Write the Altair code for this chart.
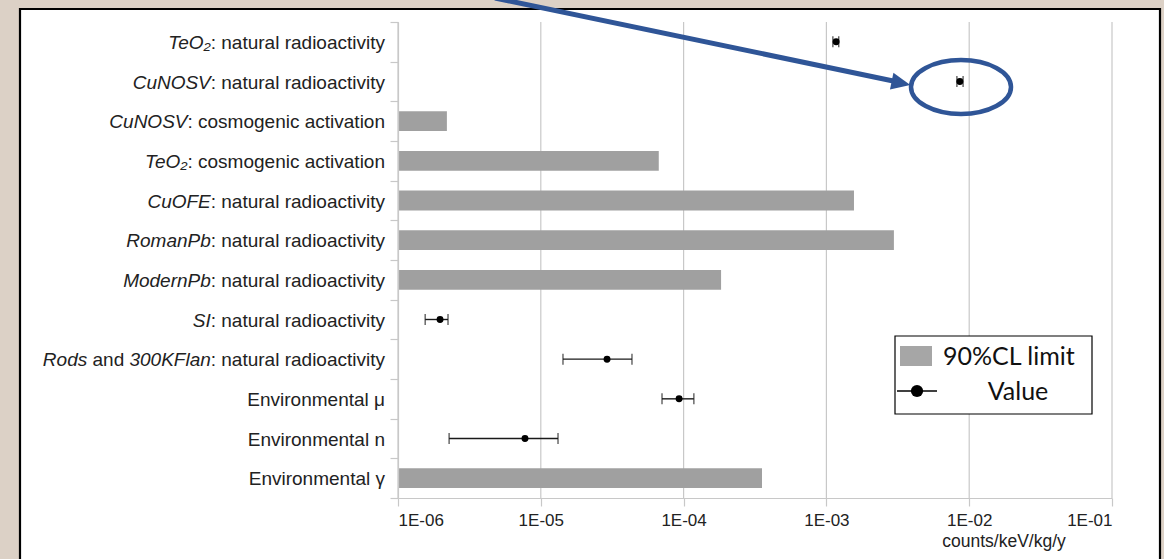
import altair as alt
import pandas as pd

# ---------------- data ----------------
row_ids = ["r01", "r02", "r03", "r04", "r05", "r06", "r07", "r08", "r09", "r10", "r11", "r12"]
# label segments: (text, italic)
label_segments = [
    [("TeO\u2082", True), (": natural radioactivity", False)],
    [("CuNOSV", True), (": natural radioactivity", False)],
    [("CuNOSV", True), (": cosmogenic activation", False)],
    [("TeO\u2082", True), (": cosmogenic activation", False)],
    [("CuOFE", True), (": natural radioactivity", False)],
    [("RomanPb", True), (": natural radioactivity", False)],
    [("ModernPb", True), (": natural radioactivity", False)],
    [("SI", True), (": natural radioactivity", False)],
    [("Rods", True), ("\u00a0and\u00a0", False), ("300KFlan", True), (": natural radioactivity", False)],
    [("Environmental \u03bc", False)],
    [("Environmental n", False)],
    [("Environmental \u03b3", False)],
]
limit_90cl = [None, None, 2.2e-6, 6.7e-5, 1.56e-3, 2.97e-3, 1.83e-4, None, None, None, None, 3.54e-4]
value = [1.17e-3, 8.6e-3, None, None, None, None, None, 1.97e-6, 2.91e-5, 9.3e-5, 7.75e-6, None]
err_low = [1.11e-3, 8.2e-3, None, None, None, None, None, 1.55e-6, 1.43e-5, 7.06e-5, 2.28e-6, None]
err_high = [1.22e-3, 9.06e-3, None, None, None, None, None, 2.24e-6, 4.35e-5, 1.18e-4, 1.32e-5, None]
x_ticks = [1e-6, 1e-5, 1e-4, 1e-3, 1e-2, 1e-1]
x_title = "counts/keV/kg/y"
legend_labels = ["90%CL limit", "Value"]

# ---------------- style ----------------
W, H = 714, 476
PAD = {"left": 398, "top": 22, "right": 52, "bottom": 61}
BAR = "#a0a0a0"
GRID = "#c8c8c8"
BLUE = "#2f5597"
LABEL_SIZE = 19

ARIAL = {' ': 278, '\u00a0': 278, ':': 278, 'a': 556, 'b': 556, 'c': 500, 'd': 556, 'e': 556,
         'f': 278, 'g': 556, 'h': 556, 'i': 222, 'j': 222, 'k': 500, 'l': 222, 'm': 833,
         'n': 556, 'o': 556, 'p': 556, 'q': 556, 'r': 333, 's': 500, 't': 278, 'u': 556,
         'v': 500, 'w': 722, 'x': 500, 'y': 500, 'z': 500, 'A': 667, 'B': 667, 'C': 722,
         'D': 722, 'E': 667, 'F': 611, 'G': 778, 'H': 722, 'I': 278, 'J': 500, 'K': 667,
         'L': 556, 'M': 833, 'N': 722, 'O': 778, 'P': 667, 'Q': 778, 'R': 722, 'S': 667,
         'T': 611, 'U': 722, 'V': 667, 'W': 944, 'X': 667, 'Y': 667, 'Z': 611, '\u2082': 333}


def text_width(s):
    return sum(ARIAL.get(c, 556) for c in s) * LABEL_SIZE / 1000.0


main = pd.DataFrame({
    "row": row_ids,
    "limit": limit_90cl,
    "value": value,
    "lo": err_low,
    "hi": err_high,
})
main["base"] = 1e-6

seg_rows = []
for rid, segs in zip(row_ids, label_segments):
    off = 0.0
    for txt, ital in reversed(segs):
        drawn = txt.rstrip()
        trailing = txt[len(drawn):]
        seg_rows.append({"row": rid, "txt": drawn, "italic": ital,
                         "off": round(off + text_width(trailing), 1)})
        off += text_width(txt)
segs_df = pd.DataFrame(seg_rows)

y_enc = alt.Y("row:N", sort=row_ids,
              scale=alt.Scale(paddingInner=0, paddingOuter=0),
              axis=alt.Axis(labels=False, title=None, tickBand="extent", tickSize=8,
                            tickColor=GRID, domainColor=GRID, tickWidth=1.2, domainWidth=1.2,
                            grid=False, zindex=1))
x_scale = alt.Scale(type="log", domain=[1e-6, 1e-1])
x_axis = alt.Axis(values=x_ticks, grid=False, title=None, tickSize=8, tickColor=GRID,
                  domainColor=GRID, tickWidth=1.2, domainWidth=1.2,
                  labelExpr="'1E-0' + toString(-round(log(datum.value)/LN10))",
                  labelFont="Liberation Sans", labelFontSize=17, labelColor="#222",
                  labelPadding=6, zindex=1)

base = alt.Chart(main)

panel = alt.Chart(pd.DataFrame({"k": [0]})).mark_rect(
    fill="white", stroke="black", strokeWidth=2.2
).encode(x=alt.value(-378), x2=alt.value(762), y=alt.value(-13), y2=alt.value(600))

grid = alt.Chart(pd.DataFrame({"t": x_ticks})).mark_rule(color=GRID, strokeWidth=1.2).encode(
    x=alt.X("t:Q", scale=x_scale, axis=x_axis))

bars = base.transform_filter("datum.limit != null").mark_bar(
    color=BAR, height=alt.RelativeBandSize(0.5)).encode(
    x=alt.X("limit:Q", scale=x_scale, axis=x_axis), x2="base:Q", y=y_enc)

err = base.transform_filter("datum.value != null").mark_rule(color="#1a1a1a", strokeWidth=1.4).encode(
    x=alt.X("lo:Q", scale=x_scale), x2="hi:Q", y=y_enc)
cap_lo = base.transform_filter("datum.value != null").mark_tick(
    color="#1a1a1a", thickness=1.4, size=11, orient="vertical").encode(
    x=alt.X("lo:Q", scale=x_scale), y=y_enc)
cap_hi = base.transform_filter("datum.value != null").mark_tick(
    color="#1a1a1a", thickness=1.4, size=11, orient="vertical").encode(
    x=alt.X("hi:Q", scale=x_scale), y=y_enc)
pts = base.transform_filter("datum.value != null").mark_point(
    filled=True, color="black", size=48, opacity=1).encode(
    x=alt.X("value:Q", scale=x_scale), y=y_enc)

label_layers = []
for (off, ital), grp in segs_df.groupby(["off", "italic"]):
    lay = alt.Chart(grp).mark_text(
        align="right", baseline="middle", font="Liberation Sans", fontSize=LABEL_SIZE,
        fontStyle="italic" if ital else "normal", color="#222", dx=-off, dy=1
    ).encode(x=alt.value(-13), y=y_enc, text="txt:N")
    label_layers.append(lay)

title_txt = alt.Chart(pd.DataFrame({"t": [x_title]})).mark_text(
    font="Liberation Sans", fontSize=17.5, color="#222", align="center", baseline="middle"
).encode(x=alt.value(606), y=alt.value(520), text="t:N")

# legend
one = pd.DataFrame({"k": [0]})
leg_box = alt.Chart(one).mark_rect(fill="white", stroke="black", strokeWidth=1.2).encode(
    x=alt.value(497), x2=alt.value(694), y=alt.value(314), y2=alt.value(392))
leg_sw = alt.Chart(one).mark_rect(fill="#a6a6a6").encode(
    x=alt.value(502), x2=alt.value(534), y=alt.value(324), y2=alt.value(344))
leg_line = alt.Chart(one).mark_rule(color="black", strokeWidth=1.6).encode(
    x=alt.value(499), x2=alt.value(539), y=alt.value(369))
leg_dot = alt.Chart(one).mark_point(filled=True, color="black", size=150, opacity=1).encode(
    x=alt.value(519), y=alt.value(369))
leg_t1 = alt.Chart(pd.DataFrame({"t": [legend_labels[0]]})).mark_text(
    font="Lato", fontSize=25, color="#111", align="left", baseline="middle").encode(
    x=alt.value(545), y=alt.value(335), text="t:N")
leg_t2 = alt.Chart(pd.DataFrame({"t": [legend_labels[1]]})).mark_text(
    font="Lato", fontSize=25, color="#111", align="center", baseline="middle").encode(
    x=alt.value(620), y=alt.value(370), text="t:N")

# annotation arrow + ellipse
arrow_line = alt.Chart(one).mark_rule(color=BLUE, strokeWidth=5).encode(
    x=alt.value(97), y=alt.value(-24), x2=alt.value(500), y2=alt.value(60))
arrow_head = alt.Chart(one).mark_point(
    shape="M-1,-0.9L1,0L-1,0.9Z", filled=True, color=BLUE, size=361, angle=11.7, opacity=1
).encode(x=alt.value(503), y=alt.value(61))
ellipse = alt.Chart(one).mark_point(
    shape="M-1,0A1,0.54,0,1,0,1,0A1,0.54,0,1,0,-1,0Z", filled=False, color=BLUE,
    strokeWidth=4.5, size=10000, opacity=1
).encode(x=alt.value(563), y=alt.value(65))

chart = alt.layer(
    panel, grid, bars, err, cap_lo, cap_hi, pts, *label_layers, title_txt,
    leg_box, leg_sw, leg_line, leg_dot, leg_t1, leg_t2, arrow_line, arrow_head, ellipse
).properties(
    width=W, height=H, padding=PAD, autosize=alt.AutoSizeParams(type="none")
).configure(background="#dcd1c6").configure_view(stroke=GRID, strokeWidth=1.2)

chart.save("out.html", embed_options={"renderer": "svg", "actions": False})
